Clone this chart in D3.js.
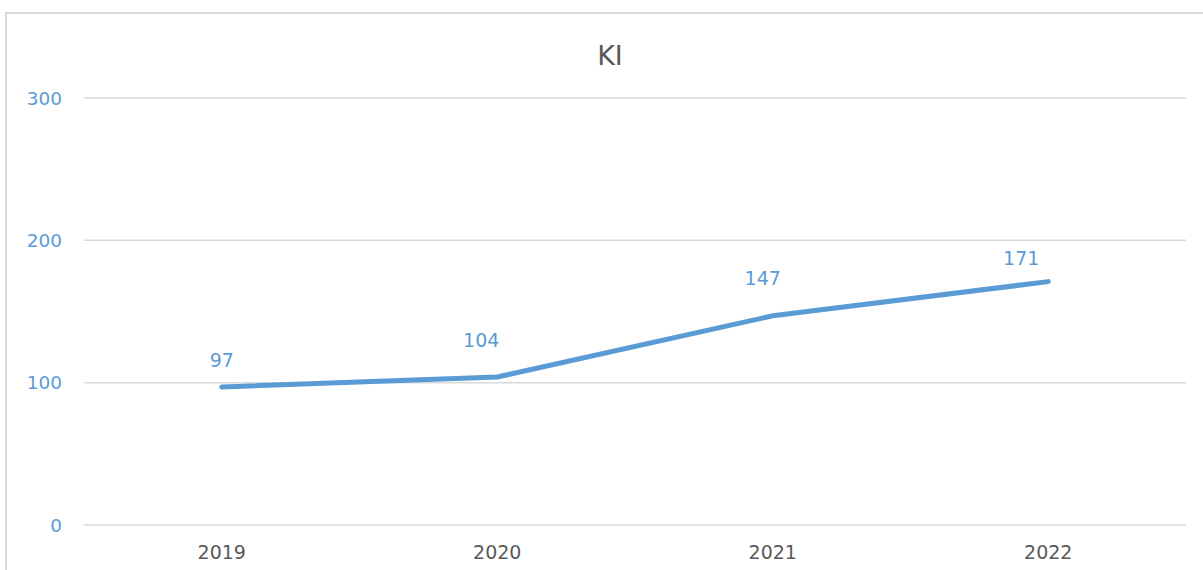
<!DOCTYPE html>
<html>
<head>
<meta charset="utf-8">
<script src="https://cdn.jsdelivr.net/npm/d3@7"></script>
<style>
  body { margin: 0; background: #fff; }
  svg { display: block; }
</style>
</head>
<body>
<svg id="chart" width="1203" height="570"></svg>
<script>
const title = "KI";
const years = ["2019", "2020", "2021", "2022"];
const values = [97, 104, 147, 171];
const yTicks = [0, 100, 200, 300];

// small nudges so labels sit clear of the line (like the original)
const labelNudge = [[0, -20], [-16, -30], [-10, -31], [-27, -17]];

const svg = d3.select("#chart");
const blue = "#5b9bd5";

// chart frame (only top and left edges are visible in the shot)
svg.append("rect")
    .attr("x", 6).attr("y", 13)
    .attr("width", 1230).attr("height", 600)
    .attr("fill", "none")
    .attr("stroke", "#d9d9d9")
    .attr("stroke-width", 2);

const x = d3.scaleBand().domain(years).range([84, 1186]);
const y = d3.scaleLinear().domain([0, 300]).range([525, 98]);

// gridlines
svg.append("g")
    .selectAll("line")
    .data(yTicks)
    .enter()
    .append("line")
    .attr("x1", 84).attr("x2", 1186)
    .attr("y1", d => y(d)).attr("y2", d => y(d))
    .attr("stroke", "#d9d9d9")
    .attr("stroke-width", 1.5);

// y labels
svg.append("g")
    .selectAll("text")
    .data(yTicks)
    .enter()
    .append("text")
    .attr("x", 62)
    .attr("y", d => y(d) + 6.5)
    .attr("text-anchor", "end")
    .attr("font-family", "DejaVu Sans")
    .attr("font-size", 18.5)
    .attr("fill", blue)
    .text(d => d);

// x labels
svg.append("g")
    .selectAll("text")
    .data(years)
    .enter()
    .append("text")
    .attr("x", d => x(d) + x.bandwidth() / 2)
    .attr("y", 559)
    .attr("text-anchor", "middle")
    .attr("font-family", "DejaVu Sans")
    .attr("font-size", 19)
    .attr("fill", "#595959")
    .text(d => d);

// title
svg.append("text")
    .attr("x", 610)
    .attr("y", 65)
    .attr("text-anchor", "middle")
    .attr("font-family", "DejaVu Sans")
    .attr("font-size", 27)
    .attr("fill", "#595959")
    .text(title);

const pts = years.map((yr, i) => ({ yr: yr, v: values[i], i: i }));

const line = d3.line()
    .x(d => x(d.yr) + x.bandwidth() / 2)
    .y(d => y(d.v));

svg.append("path")
    .datum(pts)
    .attr("d", line)
    .attr("fill", "none")
    .attr("stroke", blue)
    .attr("stroke-width", 5)
    .attr("stroke-linecap", "round")
    .attr("stroke-linejoin", "round");

// data labels
svg.append("g")
    .selectAll("text")
    .data(pts)
    .enter()
    .append("text")
    .attr("x", d => x(d.yr) + x.bandwidth() / 2 + labelNudge[d.i][0])
    .attr("y", d => y(d.v) + labelNudge[d.i][1])
    .attr("text-anchor", "middle")
    .attr("font-family", "DejaVu Sans")
    .attr("font-size", 19)
    .attr("fill", blue)
    .text(d => d.v);
</script>
</body>
</html>
